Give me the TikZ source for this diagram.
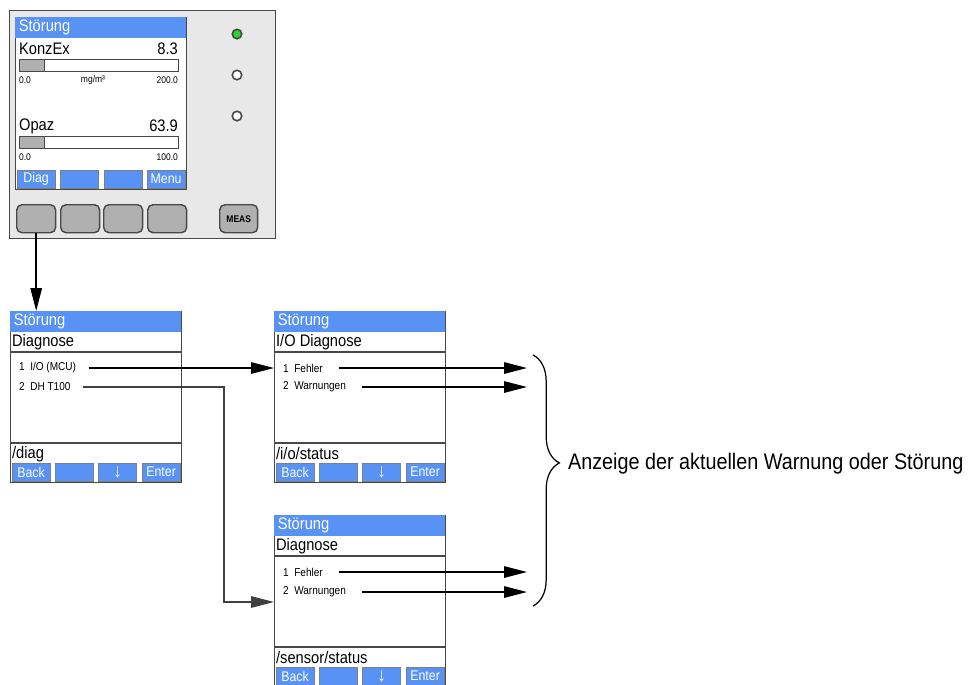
\documentclass[tikz,border=0pt]{standalone}
\usepackage{fontspec}
\setmainfont{Liberation Sans}[FakeStretch=0.88]
\usepackage{tikz}
\usetikzlibrary{arrows.meta, positioning, calc, decorations.pathreplacing}
\definecolor{barblue}{RGB}{88,146,245}
\definecolor{casegray}{RGB}{232,232,232}
\definecolor{framegray}{RGB}{72,72,72}
\definecolor{keygray}{RGB}{176,176,176}
\definecolor{ledgreen}{RGB}{40,215,40}
\tikzset{
  casebox/.style={
    rectangle, draw=framegray, fill=casegray, line width=0.8pt,
    anchor=north west, inner sep=0pt
  },
  screen/.style={
    rectangle, draw=framegray, fill=white, line width=0.8pt,
    anchor=north west, minimum width=3.42cm, minimum height=3.42cm, inner sep=0pt
  },
  titlebar/.style={
    rectangle, fill=barblue, anchor=north west, inner sep=0pt,
    minimum width=3.42cm, minimum height=0.42cm
  },
  softkey/.style={
    rectangle, fill=barblue, draw=framegray!70, line width=0.4pt, anchor=north west,
    inner sep=0pt, minimum width=0.77cm, minimum height=0.35cm,
    font=\fontsize{8}{9}\selectfont, text=white
  },
  hardkey/.style={
    rectangle, rounded corners=3pt, fill=keygray, draw=framegray, line width=0.8pt,
    anchor=north west, inner sep=0pt, minimum width=0.78cm, minimum height=0.56cm
  },
  meter/.style={
    rectangle, draw=framegray, fill=white, line width=0.6pt, anchor=north west,
    inner sep=0pt, minimum width=3.18cm, minimum height=0.24cm
  },
  led/.style={circle, draw=framegray, fill=white, line width=0.9pt, minimum size=0.19cm, inner sep=0pt},
  headtext/.style={font=\fontsize{9.5}{11}\selectfont, text=white, inner sep=1pt},
  bigtext/.style={font=\fontsize{9.5}{11}\selectfont, inner sep=1pt},
  itemtext/.style={font=\fontsize{6.5}{7.5}\selectfont, inner sep=1pt, anchor=west},
  smalltext/.style={font=\fontsize{5.5}{6.5}\selectfont, inner sep=1pt},
  rule/.style={line width=0.7pt, draw=framegray},
  downkey/.style={softkey, font=\fontsize{11}{11}\selectfont\bfseries},
  flow/.style={-{Triangle[length=13pt, width=6.5pt]}, line width=0.8pt, black, shorten <=6pt},
  routed/.style={-{Triangle[length=13pt, width=6.5pt]}, line width=0.8pt, black!75, shorten <=6pt},
  note/.style={font=\fontsize{12.8}{15}\selectfont, inner sep=1pt, anchor=west}
}

\begin{document}
\begin{tikzpicture}[x=0.02cm, y=-0.02cm]
  \useasboundingbox (0,0) rectangle (974,684);
  \clip (0,0) rectangle (974,684);

  % measuring unit with display
  \node[casebox, minimum width=5.32cm, minimum height=4.56cm] (dev) at (9,10) {};
  \node[screen, minimum height=3.44cm] (disp) at (15,17) {};
  \node[titlebar] (tdisp) at (disp.north west) {};
  \node[headtext, right=1pt of tdisp.west] {Störung};

  \node[bigtext, anchor=west] (konz) at (17,49) {KonzEx};
  \node[bigtext, anchor=east] (konzval) at (180,49) {8.3};
  \node[meter] (m1) at (19,59) {};
  \node[meter, fill=keygray, minimum width=0.5cm] at (19,59) {};
  \node[smalltext, anchor=west] at (17,80) {0.0};
  \node[smalltext] at (93,80) {mg/m³};
  \node[smalltext, anchor=east] at (180,80) {200.0};

  \node[bigtext, anchor=west] (opaz) at (17,126) {Opaz};
  \node[bigtext, anchor=east] (opazval) at (180,126) {63.9};
  \node[meter] (m2) at (19,136) {};
  \node[meter, fill=keygray, minimum width=0.5cm] at (19,136) {};
  \node[smalltext, anchor=west] at (17,157) {0.0};
  \node[smalltext, anchor=east] at (180,157) {100.0};

  \node[softkey] (sk1) at (16.5,170) {Diag};
  \node[softkey] (sk2) at (60,170) {};
  \node[softkey] (sk3) at (103.5,170) {};
  \node[softkey] (sk4) at (146.5,170) {Menu};

  \node[led, fill=ledgreen] (led1) at (237,34) {};
  \node[led] (led2) at (237,75) {};
  \node[led] (led3) at (237,116) {};

  \node[hardkey] (k1) at (16,204) {};
  \node[hardkey] (k2) at (60,204) {};
  \node[hardkey] (k3) at (103,204) {};
  \node[hardkey] (k4) at (147,204) {};
  \node[hardkey, minimum width=0.76cm, font=\fontsize{5.5}{6}\selectfont\bfseries] (meas) at (219,204) {MEAS};

  % menu /diag
  \node[screen] (s1) at (10,311) {};
  \node[titlebar] (t1) at (s1.north west) {};
  \node[headtext, right=1pt of t1.west] {Störung};
  \node[bigtext, anchor=west] (sub1) at ($(s1.north west)+(0,31)$) {Diagnose};
  \draw[rule] ($(s1.north west)+(0,41)$) -- ($(s1.north east)+(0,41)$);
  \node[itemtext] (i11) at ($(s1.north west)+(7,57)$) {1\ \ I/O (MCU)};
  \node[itemtext] (i12) at ($(s1.north west)+(7,76)$) {2\ \ DH T100};
  \draw[rule] ($(s1.north west)+(0,132)$) -- ($(s1.north east)+(0,132)$);
  \node[bigtext, anchor=west] (p1) at ($(s1.north west)+(0,143)$) {/diag};
  \node[softkey] (b11) at ($(s1.north west)+(1.5,152)$) {Back};
  \node[softkey] (b12) at ($(s1.north west)+(44.5,152)$) {};
  \node[downkey] (b13) at ($(s1.north west)+(88,152)$) {↓};
  \node[softkey] (b14) at ($(s1.north west)+(131.5,152)$) {Enter};

  % menu /i/o/status
  \node[screen] (s2) at (274,311) {};
  \node[titlebar] (t2) at (s2.north west) {};
  \node[headtext, right=1pt of t2.west] {Störung};
  \node[bigtext, anchor=west] (sub2) at ($(s2.north west)+(0,31)$) {I/O Diagnose};
  \draw[rule] ($(s2.north west)+(0,41)$) -- ($(s2.north east)+(0,41)$);
  \node[itemtext] (i21) at ($(s2.north west)+(7,57)$) {1\ \ Fehler};
  \node[itemtext] (i22) at ($(s2.north west)+(7,76)$) {2\ \ Warnungen};
  \draw[rule] ($(s2.north west)+(0,132)$) -- ($(s2.north east)+(0,132)$);
  \node[bigtext, anchor=west] (p2) at ($(s2.north west)+(0,143)$) {/i/o/status};
  \node[softkey] (b21) at ($(s2.north west)+(1.5,152)$) {Back};
  \node[softkey] (b22) at ($(s2.north west)+(44.5,152)$) {};
  \node[downkey] (b23) at ($(s2.north west)+(88,152)$) {↓};
  \node[softkey] (b24) at ($(s2.north west)+(131.5,152)$) {Enter};

  % menu /sensor/status
  \node[screen] (s3) at (274,515) {};
  \node[titlebar] (t3) at (s3.north west) {};
  \node[headtext, right=1pt of t3.west] {Störung};
  \node[bigtext, anchor=west] (sub3) at ($(s3.north west)+(0,31)$) {Diagnose};
  \draw[rule] ($(s3.north west)+(0,41)$) -- ($(s3.north east)+(0,41)$);
  \node[itemtext] (i31) at ($(s3.north west)+(7,57)$) {1\ \ Fehler};
  \node[itemtext] (i32) at ($(s3.north west)+(7,77)$) {2\ \ Warnungen};
  \draw[rule] ($(s3.north west)+(0,132)$) -- ($(s3.north east)+(0,132)$);
  \node[bigtext, anchor=west] (p3) at ($(s3.north west)+(0,143)$) {/sensor/status};
  \node[softkey] (b31) at ($(s3.north west)+(1.5,152)$) {Back};
  \node[softkey] (b32) at ($(s3.north west)+(44.5,152)$) {};
  \node[downkey] (b33) at ($(s3.north west)+(88,152)$) {↓};
  \node[softkey] (b34) at ($(s3.north west)+(131.5,152)$) {Enter};

  % connectors
  \coordinate (out) at (527,0);
  \coordinate (bend) at (224,602);
  \draw[flow, shorten <=0pt] (k1.south) -- (k1.south |- s1.north);
  \draw[flow] (i11.east) -- (i11.east -| s2.west);
  \draw[routed] (i12.east) -| (bend) -- (bend -| s3.west);
  \draw[flow, shorten <=8pt] (i21.east) -- (i21.east -| out);
  \draw[flow, shorten <=8pt] (i22.east) -- (i22.east -| out);
  \draw[flow, shorten <=8pt] (i31.east) -- (i31.east -| out);
  \draw[flow, shorten <=8pt] (i32.east) -- (i32.east -| out);

  % brace and remark
  \coordinate (btop) at (533,355);
  \coordinate (bbot) at (533,606);
  \draw[line width=0.7pt, decorate, decoration={brace, amplitude=15pt, aspect=0.43}] (btop) -- (bbot);
  \node[note] (note) at (566,464) {Anzeige der aktuellen Warnung oder Störung};
\end{tikzpicture}
\end{document}
